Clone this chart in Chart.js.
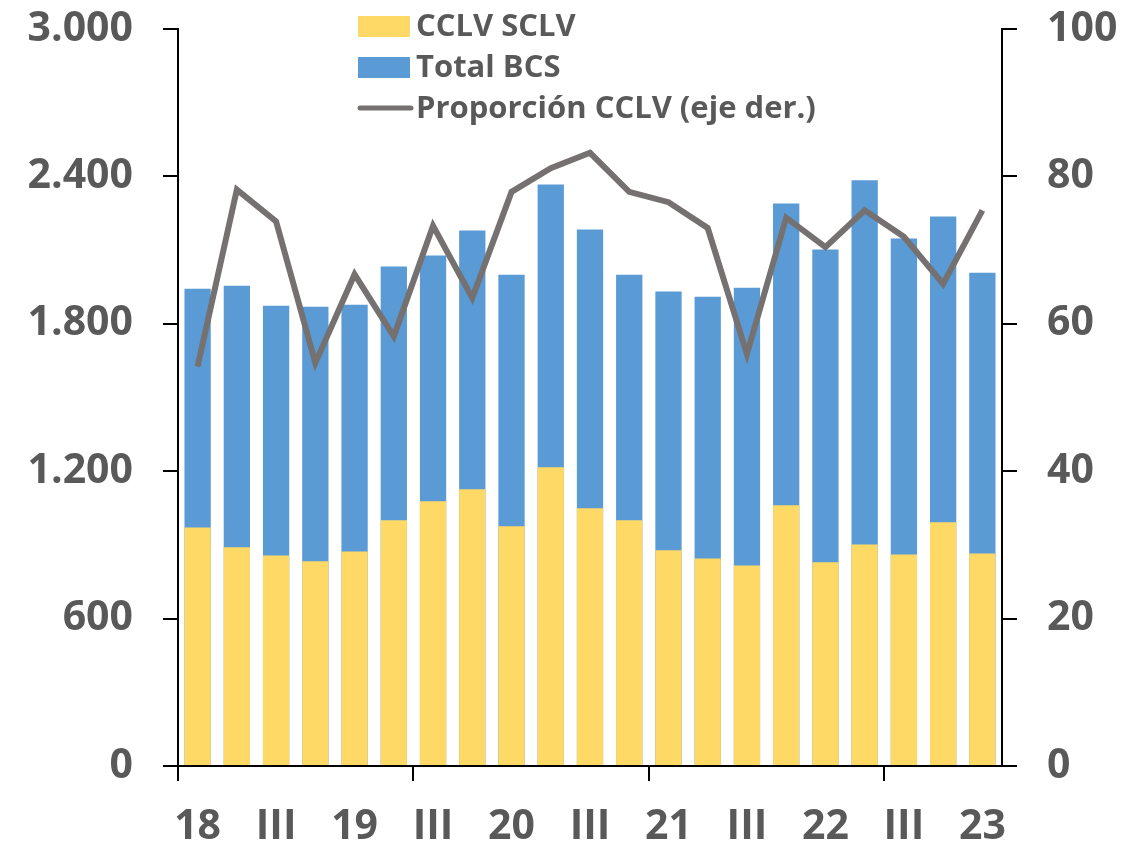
<!DOCTYPE html>
<html>
<head>
<meta charset="utf-8">
<script src="https://cdn.jsdelivr.net/npm/chart.js@4"></script>
<style>
  html, body { margin: 0; padding: 0; background: #fff; }
  #wrap { width: 1147px; height: 846px; }
</style>
</head>
<body>
<div id="wrap"><canvas id="chart"></canvas></div>
<script>
// quarters I-2018 .. I-2023, only every other one gets a label
const labels = ['18','','III','','19','','III','','20','','III','','21','','III','','22','','III','','23'];
const cclv = [971, 890, 857, 833, 873, 1000, 1078, 1127, 976, 1216, 1049, 1000, 878, 845, 816, 1061, 829, 902, 861, 992, 865];
const totalBcs = [1943, 1955, 1873, 1869, 1878, 2033, 2078, 2180, 2000, 2367, 2184, 2000, 1931, 1910, 1947, 2290, 2102, 2384, 2147, 2237, 2008];
const proporcion = [54.2, 78.2, 73.9, 54.7, 66.7, 58.3, 73.3, 63.5, 77.9, 81.1, 83.2, 77.9, 76.5, 73.0, 55.9, 74.4, 70.4, 75.4, 71.8, 65.4, 75.4];

const grey = '#595959';
const font = { family: 'Open Sans', weight: 'bold', size: 41 };

const legendItems = [
  { text: 'CCLV SCLV', type: 'box', color: '#FFD966' },
  { text: 'Total BCS', type: 'box', color: '#5B9BD5' },
  { text: 'Proporción CCLV (eje der.)', type: 'line', color: '#767171' }
];

const legendPlugin = {
  id: 'sideLegend',
  afterDraw(chart) {
    const c = chart.ctx;
    c.save();
    c.font = 'bold 31px "Open Sans"';
    c.textBaseline = 'middle';
    legendItems.forEach((it, i) => {
      const y = 26 + i * 41;
      if (it.type === 'box') {
        c.fillStyle = it.color;
        c.fillRect(358, y - 10, 52, 21);
      } else {
        c.strokeStyle = it.color;
        c.lineWidth = 5;
        c.lineCap = 'round';
        c.beginPath();
        c.moveTo(360, y);
        c.lineTo(411, y);
        c.stroke();
      }
      c.fillStyle = grey;
      c.fillText(it.text, 416, y + 1);
    });
    c.restore();
  }
};

const fitY = w => s => { s.width = w; s.paddingTop = 0; s.paddingBottom = 0; };

new Chart(document.getElementById('chart'), {
  data: {
    labels: labels,
    datasets: [
      {
        type: 'line',
        label: 'Proporción CCLV (eje der.)',
        data: proporcion,
        yAxisID: 'y1',
        borderColor: '#767171',
        borderWidth: 6,
        pointRadius: 0,
        tension: 0,
        order: 0
      },
      {
        type: 'bar',
        label: 'CCLV SCLV',
        data: cclv,
        yAxisID: 'y',
        backgroundColor: '#FFD966',
        grouped: false,
        categoryPercentage: 1,
        barPercentage: 0.67,
        order: 1
      },
      {
        type: 'bar',
        label: 'Total BCS',
        data: totalBcs,
        yAxisID: 'y',
        backgroundColor: '#5B9BD5',
        grouped: false,
        categoryPercentage: 1,
        barPercentage: 0.67,
        order: 2
      }
    ]
  },
  options: {
    responsive: true,
    maintainAspectRatio: false,
    animation: false,
    layout: { padding: { top: 29, left: 0, right: 0, bottom: 0 } },
    plugins: { legend: { display: false }, tooltip: { enabled: false } },
    scales: {
      x: {
        offset: true,
        afterFit: s => { s.height = 80; s.paddingLeft = 0; s.paddingRight = 0; },
        border: { display: true, color: '#000', width: 2 },
        grid: {
          offset: true,
          drawOnChartArea: false,
          drawTicks: true,
          tickLength: 15,
          lineWidth: 2,
          color: ctx => (ctx.index !== undefined && ctx.index % 6 === 0) ? '#000' : 'rgba(0,0,0,0)'
        },
        ticks: { autoSkip: false, maxRotation: 0, color: grey, font: font, padding: 22 }
      },
      y: {
        position: 'left',
        min: 0,
        max: 3000,
        afterFit: fitY(178),
        border: { display: true, color: '#000', width: 2 },
        grid: { drawOnChartArea: false, tickLength: 15, lineWidth: 2, color: '#000' },
        ticks: {
          stepSize: 600,
          color: grey,
          font: font,
          padding: 30,
          callback: v => v.toString().replace(/\B(?=(\d{3})+(?!\d))/g, '.')
        }
      },
      y1: {
        position: 'right',
        min: 0,
        max: 100,
        afterFit: fitY(145),
        border: { display: true, color: '#000', width: 2 },
        grid: { drawOnChartArea: false, tickLength: 15, lineWidth: 2, color: '#000' },
        ticks: { stepSize: 20, color: grey, font: font, padding: 30 }
      }
    }
  },
  plugins: [legendPlugin]
});
</script>
</body>
</html>
